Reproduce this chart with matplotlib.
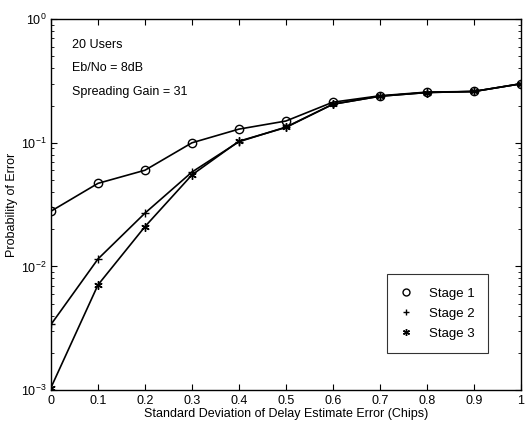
import numpy as np
import matplotlib.pyplot as plt

plt.rcParams['font.family'] = ['Liberation Sans', 'DejaVu Sans']

# Std dev of delay estimate error (chips)
sigma = [0, 0.1, 0.2, 0.3, 0.4, 0.5, 0.6, 0.7, 0.8, 0.9, 1.0]
# Probability of error for each stage
stage1 = [0.028, 0.047, 0.060, 0.100, 0.129, 0.150, 0.213, 0.240, 0.257, 0.260, 0.300]
stage2 = [0.0034, 0.0115, 0.027, 0.058, 0.102, 0.134, 0.205, 0.238, 0.255, 0.260, 0.300]
stage3 = [0.00105, 0.0071, 0.021, 0.055, 0.103, 0.133, 0.205, 0.238, 0.255, 0.260, 0.300]
labels = ["Stage 1", "Stage 2", "Stage 3"]
notes = ["20 Users", "Eb/No = 8dB", "Spreading Gain = 31"]

fig = plt.figure(figsize=(5.26, 4.25), dpi=100)
ax = fig.add_axes([0.097, 0.082, 0.893, 0.873])

ax.semilogy(sigma, stage1, c='black', lw=1.2, marker='o', ms=6, mfc='none', mew=1.0)
ax.semilogy(sigma, stage2, c='black', lw=1.2, marker='+', ms=6, mew=1.0)
ax.semilogy(sigma, stage3, c='black', lw=1.2, marker=(6, 2, 0), ms=6, mew=1.0)

# legend: markers only
h = [plt.Line2D([], [], ls='none', c='black', marker='o', ms=5, mfc='none'),
     plt.Line2D([], [], ls='none', c='black', marker='+', ms=5),
     plt.Line2D([], [], ls='none', c='black', marker=(6, 2, 0), ms=5)]
leg = ax.legend(h, labels, loc='lower right', bbox_to_anchor=(0.93, 0.1), fancybox=False,
                edgecolor='black', fontsize=9.5, handlelength=1.0, handletextpad=1.2,
                borderpad=1.0, labelspacing=0.6, borderaxespad=0)
leg.get_frame().set_linewidth(0.8)

ax.set_xlim(0, 1)
ax.set_ylim(1e-3, 1)
ax.set_xticks([0, 0.1, 0.2, 0.3, 0.4, 0.5, 0.6, 0.7, 0.8, 0.9, 1])
ax.set_xticklabels(['0', '0.1', '0.2', '0.3', '0.4', '0.5', '0.6', '0.7', '0.8', '0.9', '1'])
ax.tick_params(which='both', direction='in', top=True, right=True, labelsize=9)
ax.tick_params(which='major', length=4)
ax.tick_params(which='minor', length=2)
for s in ax.spines.values():
    s.set_linewidth(1.0)

ax.set_xlabel('Standard Deviation of Delay Estimate Error (Chips)', fontsize=9, labelpad=1)
ax.set_ylabel('Probability of Error', fontsize=9, labelpad=2)

for i, t in enumerate(notes):
    ax.text(0.044, 0.93 - i * 0.063, t, transform=ax.transAxes, fontsize=9, va='center')

fig.savefig('out.png', dpi=100)
